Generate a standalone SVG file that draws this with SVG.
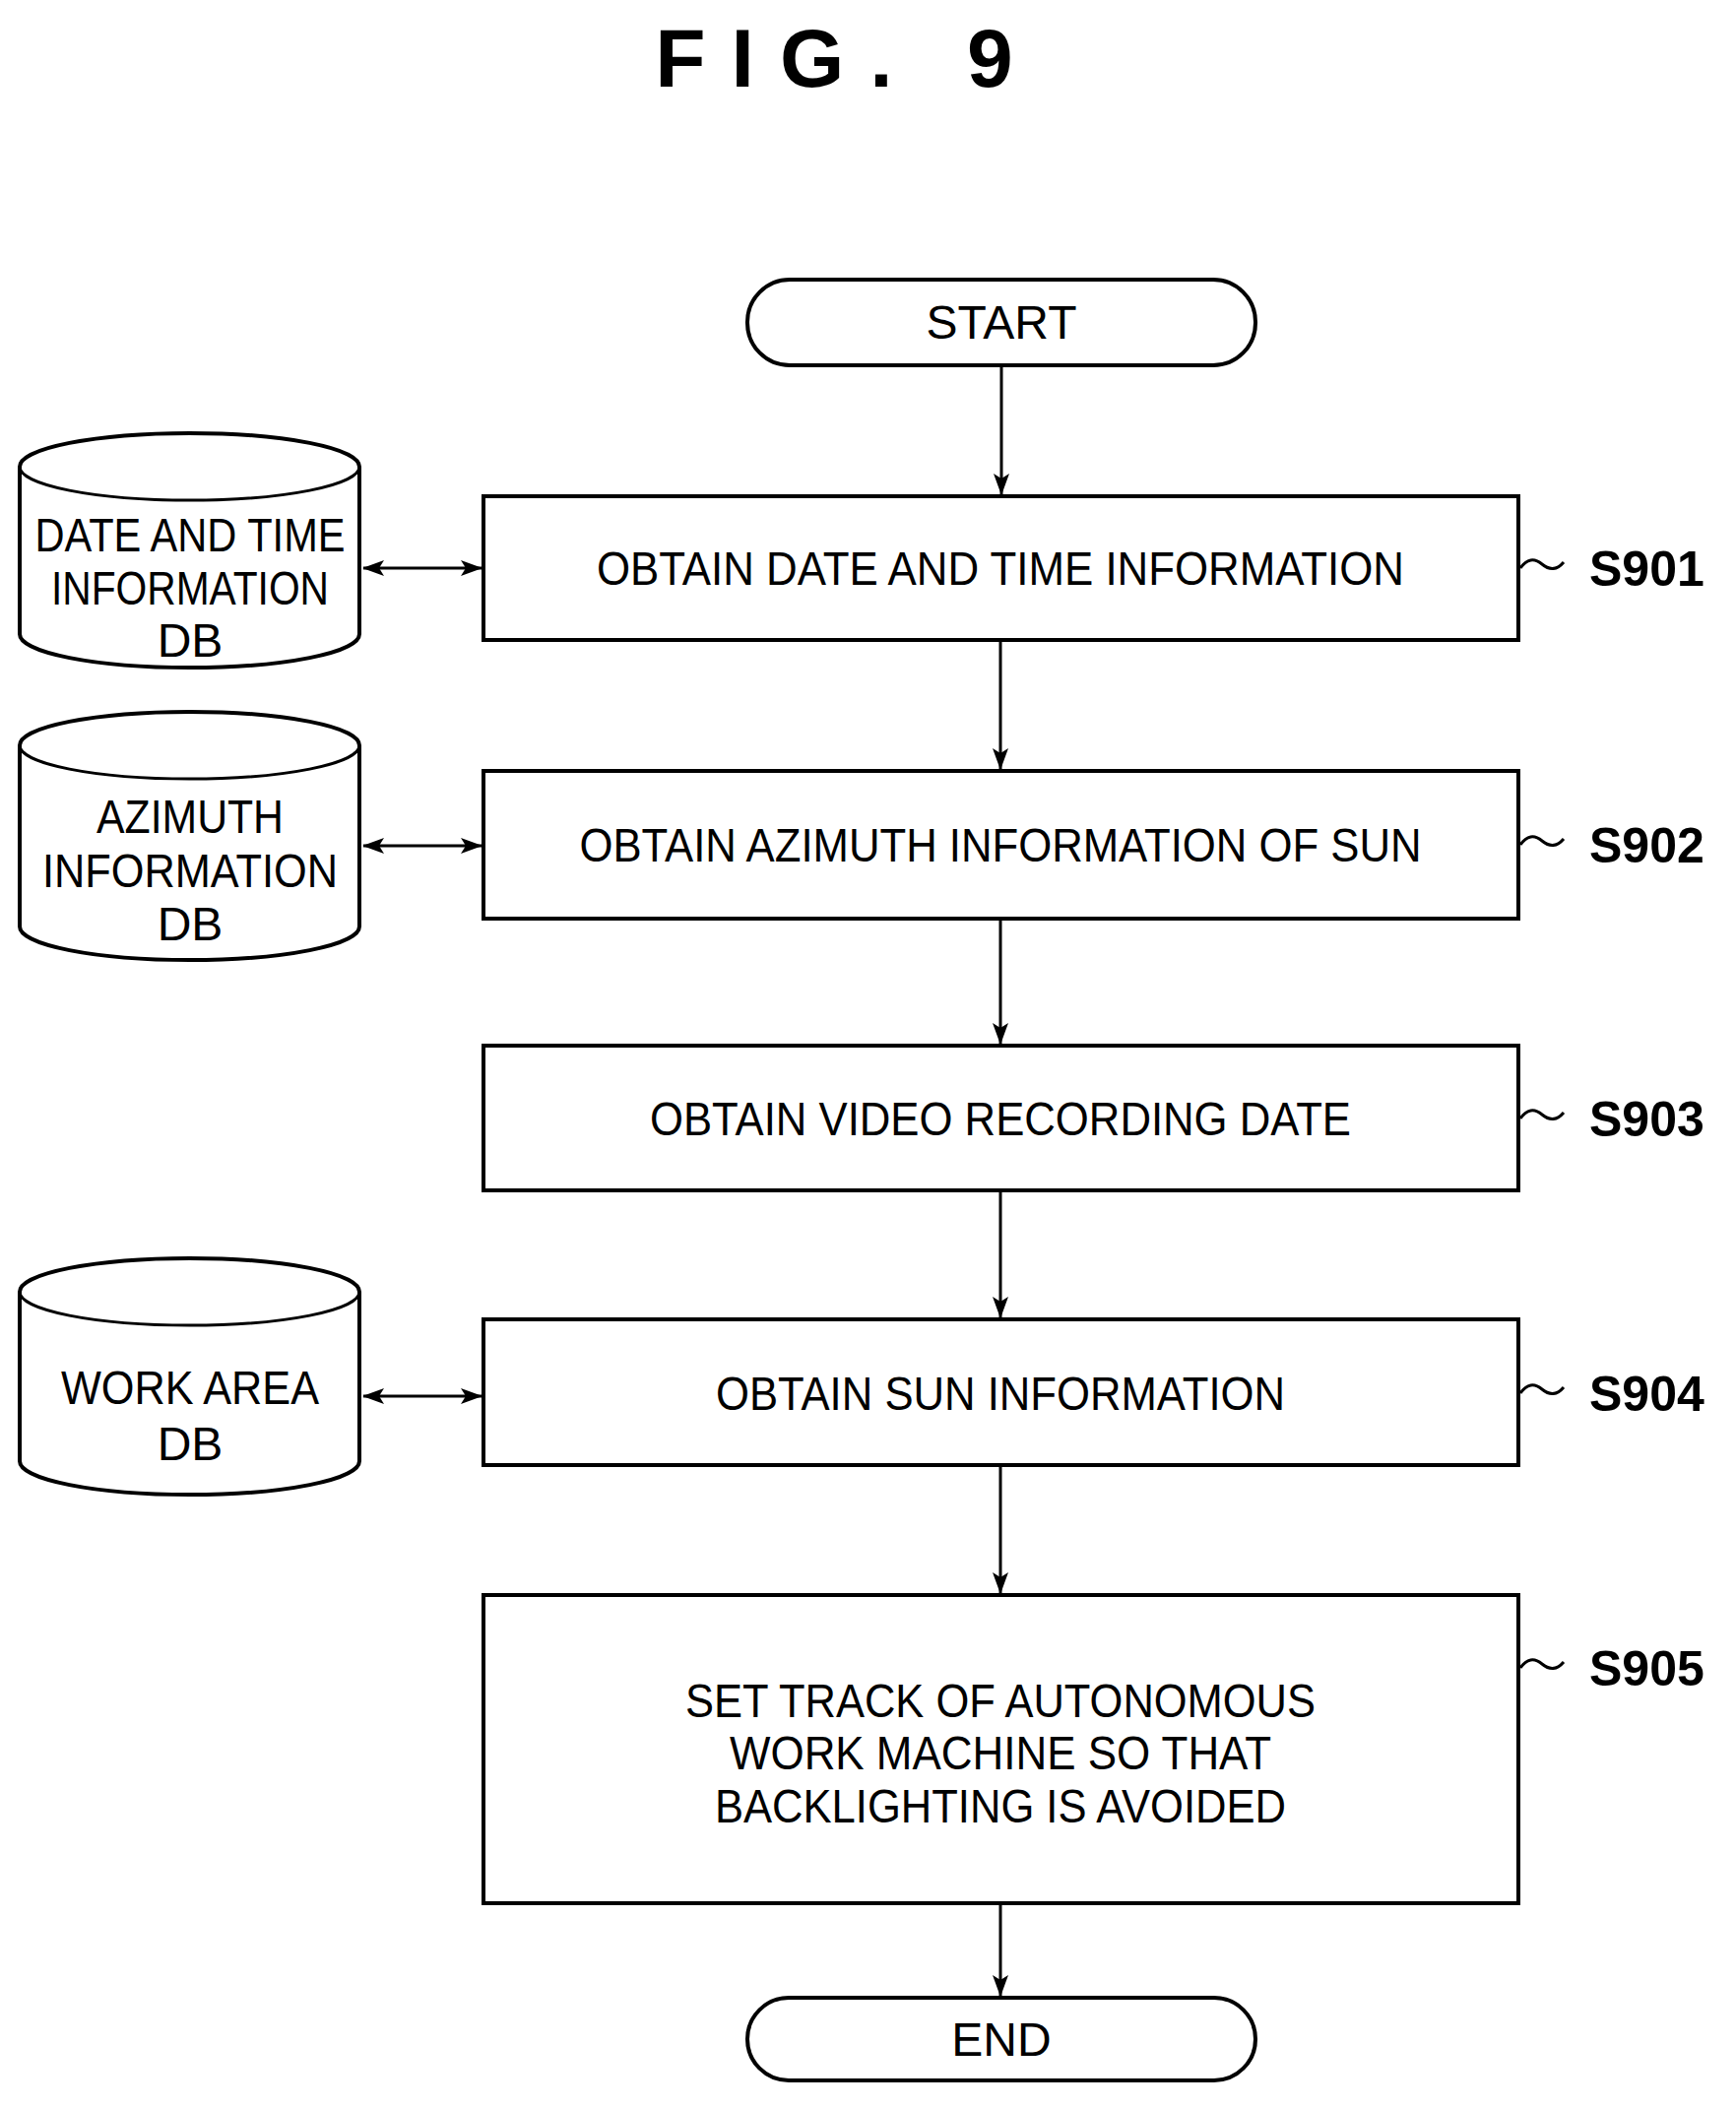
<svg xmlns="http://www.w3.org/2000/svg" width="1763" height="2141" viewBox="0 0 1763 2141">
<style>
.s{fill:#fff;stroke:#000;stroke-width:4}
.t{font-family:"Liberation Sans",Arial,sans-serif;font-size:48px;text-anchor:middle;fill:#000}
.l{font-family:"Liberation Sans",Arial,sans-serif;font-size:50px;font-weight:bold;fill:#000}
.c{stroke:#000;stroke-width:3;fill:none}
</style>
<defs>
<marker id="a" markerWidth="22" markerHeight="16" refX="21" refY="8" orient="auto-start-reverse" markerUnits="userSpaceOnUse"><path d="M0,0 L22,8 L0,16 L5,8 Z" fill="#000"/></marker>
</defs>
<rect width="1763" height="2141" fill="#fff"/>
<text x="860" y="88" style="font-family:'Liberation Sans',Arial,sans-serif;font-size:84px;font-weight:bold;letter-spacing:26px" text-anchor="middle">FIG. 9</text>
<g id="start"><rect class="s" x="759" y="284" width="516" height="87" rx="43"/><text class="t" x="1017" y="344">START</text></g>
<g id="s901"><rect class="s" x="491" y="504" width="1051" height="146"/><text class="t" x="1016" y="594" textLength="820" lengthAdjust="spacingAndGlyphs">OBTAIN DATE AND TIME INFORMATION</text><path class="c" d="M1544,577 q10,-14 22,-4 q12,10 22,-2"/><text class="l" x="1614" y="595">S901</text></g>
<g id="s902"><rect class="s" x="491" y="783" width="1051" height="150"/><text class="t" x="1016" y="875" textLength="855" lengthAdjust="spacingAndGlyphs">OBTAIN AZIMUTH INFORMATION OF SUN</text><path class="c" d="M1544,858 q10,-14 22,-4 q12,10 22,-2"/><text class="l" x="1614" y="876">S902</text></g>
<g id="s903"><rect class="s" x="491" y="1062" width="1051" height="147"/><text class="t" x="1016" y="1153" textLength="712" lengthAdjust="spacingAndGlyphs">OBTAIN VIDEO RECORDING DATE</text><path class="c" d="M1544,1136 q10,-14 22,-4 q12,10 22,-2"/><text class="l" x="1614" y="1154">S903</text></g>
<g id="s904"><rect class="s" x="491" y="1340" width="1051" height="148"/><text class="t" x="1016" y="1432" textLength="578" lengthAdjust="spacingAndGlyphs">OBTAIN SUN INFORMATION</text><path class="c" d="M1544,1415 q10,-14 22,-4 q12,10 22,-2"/><text class="l" x="1614" y="1433">S904</text></g>
<g id="s905"><rect class="s" x="491" y="1620" width="1051" height="313"/><text class="t" x="1016" y="1744" textLength="640" lengthAdjust="spacingAndGlyphs">SET TRACK OF AUTONOMOUS</text><text class="t" x="1016" y="1797" textLength="550" lengthAdjust="spacingAndGlyphs">WORK MACHINE SO THAT</text><text class="t" x="1016" y="1851" textLength="580" lengthAdjust="spacingAndGlyphs">BACKLIGHTING IS AVOIDED</text><path class="c" d="M1544,1694 q10,-14 22,-4 q12,10 22,-2"/><text class="l" x="1614" y="1712">S905</text></g>
<g id="end"><rect class="s" x="759" y="2029" width="516" height="84" rx="42"/><text class="t" x="1017" y="2088">END</text></g>
<g id="db1"><path class="s" d="M20,474 A172,34 0 0 1 365,474 L365,644 A172,34 0 0 1 20,644 Z"/><path class="c" d="M20,474 A172,34 0 0 0 365,474"/><text class="t" x="193" y="560" textLength="315" lengthAdjust="spacingAndGlyphs">DATE AND TIME</text><text class="t" x="193" y="614" textLength="282" lengthAdjust="spacingAndGlyphs">INFORMATION</text><text class="t" x="193" y="667">DB</text></g>
<g id="db2"><path class="s" d="M20,757 A172,34 0 0 1 365,757 L365,941 A172,34 0 0 1 20,941 Z"/><path class="c" d="M20,757 A172,34 0 0 0 365,757"/><text class="t" x="193" y="846" textLength="190" lengthAdjust="spacingAndGlyphs">AZIMUTH</text><text class="t" x="193" y="901" textLength="300" lengthAdjust="spacingAndGlyphs">INFORMATION</text><text class="t" x="193" y="955">DB</text></g>
<g id="db3"><path class="s" d="M20,1312 A172,34 0 0 1 365,1312 L365,1484 A172,34 0 0 1 20,1484 Z"/><path class="c" d="M20,1312 A172,34 0 0 0 365,1312"/><text class="t" x="193" y="1426" textLength="262" lengthAdjust="spacingAndGlyphs">WORK AREA</text><text class="t" x="193" y="1483">DB</text></g>
<g id="connectors">
<line class="c" x1="1017" y1="371" x2="1017" y2="502" marker-end="url(#a)"/>
<line class="c" x1="1016" y1="650" x2="1016" y2="781" marker-end="url(#a)"/>
<line class="c" x1="1016" y1="933" x2="1016" y2="1060" marker-end="url(#a)"/>
<line class="c" x1="1016" y1="1209" x2="1016" y2="1338" marker-end="url(#a)"/>
<line class="c" x1="1016" y1="1488" x2="1016" y2="1618" marker-end="url(#a)"/>
<line class="c" x1="1016" y1="1933" x2="1016" y2="2027" marker-end="url(#a)"/>
<line class="c" x1="369" y1="577" x2="489" y2="577" marker-start="url(#a)" marker-end="url(#a)"/>
<line class="c" x1="369" y1="859" x2="489" y2="859" marker-start="url(#a)" marker-end="url(#a)"/>
<line class="c" x1="369" y1="1418" x2="489" y2="1418" marker-start="url(#a)" marker-end="url(#a)"/>
</g>
</svg>
